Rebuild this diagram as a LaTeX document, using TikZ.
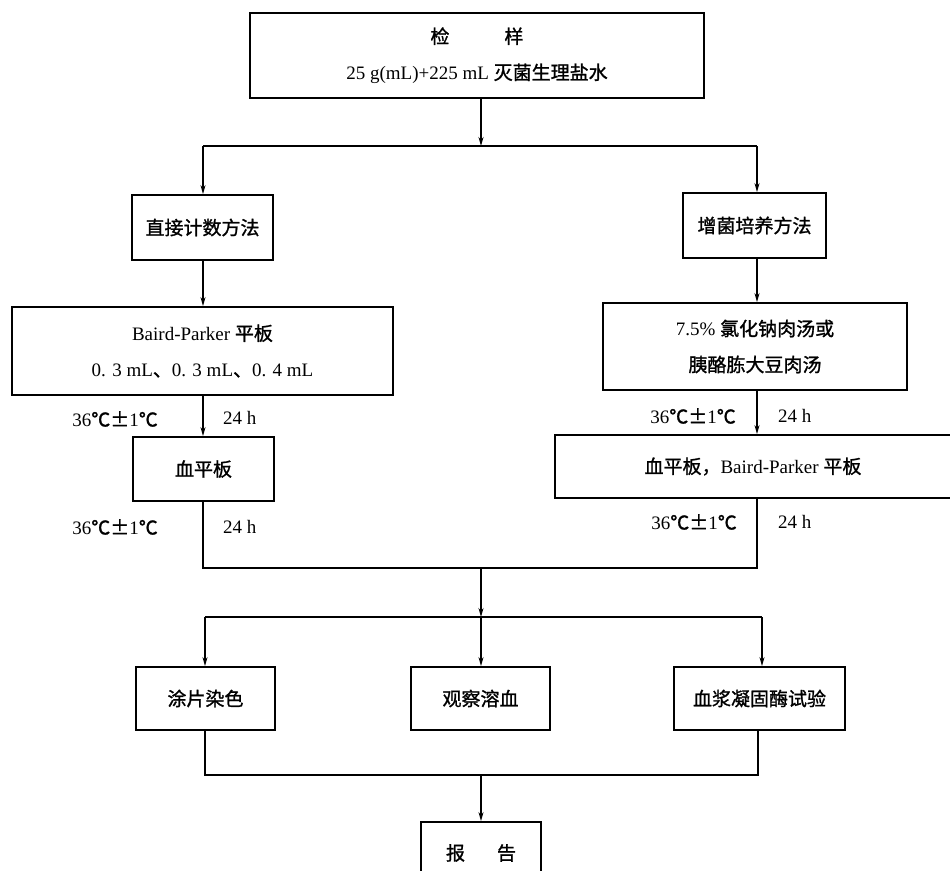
\documentclass[tikz,border=0pt]{standalone}
\usepackage{fontspec}
\setmainfont{Liberation Serif}
\newfontfamily\cjk[FakeBold=1.2]{Noto Sans CJK SC}
\usetikzlibrary{arrows.meta}
\begin{document}
\begin{tikzpicture}[x=1pt,y=-1pt,
  box/.style={draw,line width=1.8pt,rectangle,inner sep=0pt,align=center,
    font=\fontsize{19}{36}\selectfont},
  conn/.style={line width=1.3pt},
  arr/.style={line width=1.3pt,-{Stealth[length=9pt,width=5pt]}},
  lab/.style={inner sep=0pt,font=\fontsize{19}{22}\selectfont}]
\useasboundingbox (0,0) rectangle (950,870);
\fill[white] (0,0) rectangle (950,870);
% boxes
\node[box,minimum width=454pt,minimum height=85pt] (top) at (477,55.5)
  {{\cjk 检\hspace{55pt}样}\\25 g(mL)+225 mL {\cjk 灭菌生理盐水}};
\node[box,minimum width=141pt,minimum height=65pt] (direct) at (202.5,227.5) {\cjk 直接计数方法};
\node[box,minimum width=143pt,minimum height=65pt] (enrich) at (754.5,225.5) {\cjk 增菌培养方法};
\node[box,minimum width=381pt,minimum height=88pt] (bp) at (202.5,351)
  {Baird-Parker {\cjk 平板}\\0. 3 mL{\cjk 、}0. 3 mL{\cjk 、}0. 4 mL};
\node[box,minimum width=304pt,minimum height=87pt] (broth) at (755,346.5)
  {7.5\% {\cjk 氯化钠肉汤或}\\{\cjk 胰酪胨大豆肉汤}};
\node[box,minimum width=141pt,minimum height=64pt] (blood) at (203.5,469) {\cjk 血平板};
\node[box,minimum width=396pt,minimum height=63pt] (bloodbp) at (753,466.5)
  {{\cjk 血平板，}Baird-Parker {\cjk 平板}};
\node[box,minimum width=139pt,minimum height=63pt] (smear) at (205.5,698.5) {\cjk 涂片染色};
\node[box,minimum width=139pt,minimum height=63pt] (hemo) at (480.5,698.5) {\cjk 观察溶血};
\node[box,minimum width=171pt,minimum height=63pt] (coag) at (759.5,698.5) {\cjk 血浆凝固酶试验};
\node[box,minimum width=120pt,minimum height=62pt] (report) at (481,853) {\cjk 报\hspace{32pt}告};
% labels
\node[lab,anchor=east] (t1) at (158,419) {36{\cjk ℃±}1{\cjk ℃}};
\node[lab,anchor=west] (h1) at (223,418) {24 h};
\node[lab,anchor=east] (t2) at (158,527) {36{\cjk ℃±}1{\cjk ℃}};
\node[lab,anchor=west] (h2) at (223,527) {24 h};
\node[lab,anchor=east] (t3) at (736,416) {36{\cjk ℃±}1{\cjk ℃}};
\node[lab,anchor=west] (h3) at (778,416) {24 h};
\node[lab,anchor=east] (t4) at (737,522) {36{\cjk ℃±}1{\cjk ℃}};
\node[lab,anchor=west] (h4) at (778,522) {24 h};
% junction coordinates
\coordinate (j1) at (481,146);
\coordinate (jl) at (203,146);
\coordinate (jr) at (757,146);
\coordinate (jl2) at (203,568);
\coordinate (jr2) at (757,568);
\coordinate (jc2) at (481,568);
\coordinate (jc3) at (481,617);
\coordinate (kl) at (205,617);
\coordinate (kr) at (762,617);
\coordinate (ml) at (205,775);
\coordinate (mr) at (758,775);
\coordinate (mc) at (481,775);
% connectors
\draw[arr] (top.south -| j1) -- (j1);
\draw[conn] (jl) -- (jr);
\draw[arr] (jl) -- (jl |- direct.north);
\draw[arr] (jr) -- (jr |- enrich.north);
\draw[arr] (direct.south -| jl) -- (jl |- bp.north);
\draw[arr] (enrich.south -| jr) -- (jr |- broth.north);
\draw[arr] (bp.south -| jl) -- (jl |- blood.north);
\draw[arr] (broth.south -| jr) -- (jr |- bloodbp.north);
\draw[conn] (blood.south -| jl2) -- (jl2) -- (jr2) -- (bloodbp.south -| jr2);
\draw[arr] (jc2) -- (jc3);
\draw[conn] (kl) -- (kr);
\draw[arr] (kl) -- (kl |- smear.north);
\draw[arr] (jc3) -- (jc3 |- hemo.north);
\draw[arr] (kr) -- (kr |- coag.north);
\draw[conn] (smear.south -| ml) -- (ml) -- (mr) -- (coag.south -| mr);
\draw[arr] (mc) -- (mc |- report.north);
\end{tikzpicture}
\end{document}
